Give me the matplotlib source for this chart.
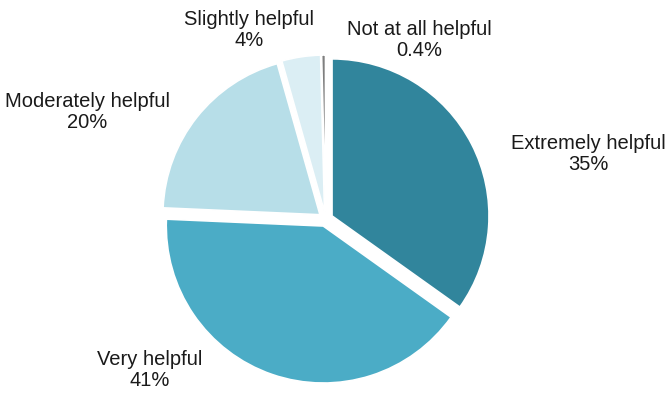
import matplotlib
matplotlib.use("Agg")
import matplotlib.pyplot as plt

# data
categories = ["Extremely helpful", "Very helpful", "Moderately helpful",
              "Slightly helpful", "Not at all helpful"]
percent = [35, 41, 20, 4, 0.4]
pct_labels = ["35%", "41%", "20%", "4%", "0.4%"]

colors = ["#31859c", "#4bacc6", "#b7dee8", "#dbeef4", "#7f7f7f"]
# every slice is pulled out a little from the centre
explode = [0.046] * len(percent)
# label centres (pie units, radius = 1)
label_pos = [(1.671, 0.415), (-1.118, -0.962), (-1.517, 0.683),
             (-0.488, 1.205), (0.598, 1.141)]

plt.rcParams["font.family"] = ["Liberation Sans", "DejaVu Sans"]

fig = plt.figure(figsize=(6.72, 3.95), dpi=100)
ax = fig.add_axes([0, 0, 1, 1])
ax.pie(
    percent,
    colors=colors,
    explode=explode,
    startangle=90,
    counterclock=False,
    radius=1.0,
    center=(0, 0),
    wedgeprops=dict(edgecolor="white", linewidth=1.2),
)
for name, pct, (x, y) in zip(categories, pct_labels, label_pos):
    ax.text(x, y, f"{name}\n{pct}", ha="center", va="center",
            fontsize=14.5, color="#1a1a1a", linespacing=1.1)

# pie centre at (325.6, 219.2) px, radius 157 px
ax.set_xlim(-325.6 / 157, (672 - 325.6) / 157)
ax.set_ylim(-(395 - 219.2) / 157, 219.2 / 157)
ax.set_aspect("equal")
ax.axis("off")

fig.savefig("out.png", dpi=100, facecolor="white")
